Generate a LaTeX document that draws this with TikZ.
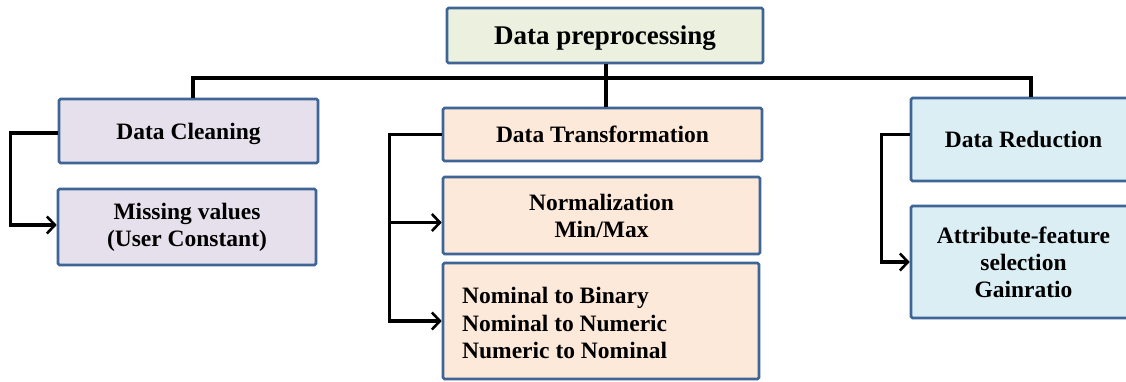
\documentclass[tikz,border=0pt]{standalone}
\usepackage{fontspec}
\setmainfont{Liberation Serif}
\usetikzlibrary{arrows.meta}
\definecolor{edge}{HTML}{3F6596}
\definecolor{olivefill}{HTML}{EBF1DE}
\definecolor{lilacfill}{HTML}{E5E0EC}
\definecolor{peachfill}{HTML}{FDE9D9}
\definecolor{icefill}{HTML}{DBEEF4}
\tikzset{
  box/.style={draw=edge, line width=2.6pt, rounded corners=1.5pt, inner sep=0pt,
    font=\fontsize{23.5}{27}\selectfont\bfseries, align=center},
  oneline/.style={text depth=0pt},
  link/.style={line width=3.2pt, draw=black},
  arrowlink/.style={link, -{Straight Barb[length=8pt,width=17pt,line width=2.6pt]}},
}
\begin{document}
\begin{tikzpicture}[x=1pt,y=-1pt]
\useasboundingbox (0,0) rectangle (1126,381);
\clip (0,0) rectangle (1126,381);
\fill[white] (0,0) rectangle (1126,381);

% boxes
\node[box, oneline, fill=olivefill, minimum width=316pt, minimum height=55pt,
  font=\fontsize{27}{30}\selectfont\bfseries] (top) at (605,35.5) {Data preprocessing};
\node[box, oneline, fill=lilacfill, minimum width=259pt, minimum height=64pt] (clean) at (188.5,131) {Data Cleaning};
\node[box, fill=lilacfill, minimum width=258pt, minimum height=76pt] (miss) at (187,227) {Missing values\\(User Constant)};
\node[box, oneline, fill=peachfill, minimum width=319pt, minimum height=53pt] (trans) at (602.5,134.5) {Data Transformation};
\node[box, fill=peachfill, minimum width=317pt, minimum height=77pt] (norm) at (601.5,215.5) {Normalization\\Min/Max};
\node[box, fill=peachfill, minimum width=316pt, minimum height=116pt] (nom) at (601,321) {};
\node[anchor=west, inner sep=0pt, align=left, font=\fontsize{23.5}{27.5}\selectfont\bfseries] (nomtext) at (462,323)
  {Nominal to Binary\\Nominal to Numeric\\Numeric to Nominal};
\node[box, oneline, fill=icefill, minimum width=225pt, minimum height=83pt] (red) at (1023.5,139.5) {Data Reduction};
\node[box, fill=icefill, minimum width=225pt, minimum height=112pt] (attr) at (1023.5,262) {Attribute-feature\\selection\\Gainratio};

% distribution bus
\coordinate (busL) at (193,78);
\coordinate (busR) at (1031,78);
\coordinate (busM) at (606,78);
\draw[link] (clean.north -| busL) |- (busR) -- (red.north -| busR);
\draw[link] (top.south -| busM) -- (trans.north -| busM);

% branch connectors
\coordinate (normin) at ([yshift=-7pt]norm.west);
\draw[arrowlink] ([yshift=-2pt]clean.west) -- ++(-47,0) |- ([yshift=2pt]miss.west);
\draw[arrowlink] (trans.west) -- ++(-52,0) coordinate (tj) |- (nom.west);
\draw[arrowlink] (tj |- normin) -- (normin);
\draw[arrowlink] ([yshift=5pt]red.west) -- ++(-28,0) |- (attr.west);
\end{tikzpicture}
\end{document}
